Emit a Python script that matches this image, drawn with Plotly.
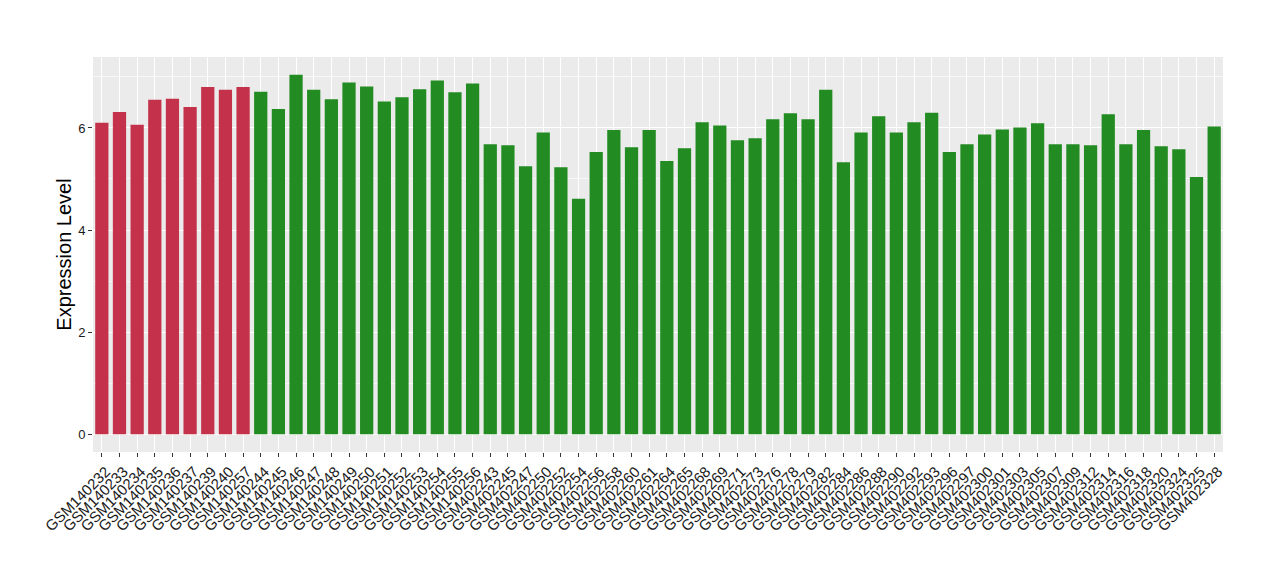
import plotly.graph_objects as go

samples = [
    "GSM140232", "GSM140233", "GSM140234", "GSM140235", "GSM140236", "GSM140237",
    "GSM140239", "GSM140240", "GSM140257",
    "GSM140244", "GSM140245", "GSM140246", "GSM140247", "GSM140248", "GSM140249",
    "GSM140250", "GSM140251", "GSM140252", "GSM140253", "GSM140254", "GSM140255",
    "GSM140256", "GSM402243", "GSM402245", "GSM402247", "GSM402250", "GSM402252",
    "GSM402254", "GSM402256", "GSM402258", "GSM402260", "GSM402261", "GSM402264",
    "GSM402265", "GSM402268", "GSM402269", "GSM402271", "GSM402273", "GSM402276",
    "GSM402278", "GSM402279", "GSM402282", "GSM402284", "GSM402286", "GSM402288",
    "GSM402290", "GSM402292", "GSM402293", "GSM402296", "GSM402297", "GSM402300",
    "GSM402301", "GSM402303", "GSM402305", "GSM402307", "GSM402309", "GSM402312",
    "GSM402314", "GSM402316", "GSM402318", "GSM402320", "GSM402324", "GSM402325",
    "GSM402328",
]

values = [
    6.10, 6.31, 6.06, 6.55, 6.57, 6.41, 6.80, 6.75, 6.80,
    6.71, 6.37, 7.04, 6.75, 6.56, 6.89, 6.81, 6.52, 6.60, 6.76, 6.93, 6.70,
    6.87, 5.68, 5.66, 5.25, 5.91, 5.23, 4.61, 5.53, 5.96, 5.62, 5.96, 5.35,
    5.60, 6.11, 6.05, 5.76, 5.80, 6.17, 6.29, 6.17, 6.75, 5.33, 5.91, 6.23,
    5.91, 6.11, 6.30, 5.53, 5.68, 5.87, 5.97, 6.01, 6.09, 5.68, 5.68, 5.66,
    6.27, 5.68, 5.96, 5.64, 5.58, 5.04, 6.03,
]

groups = ["red"] * 9 + ["green"] * 55

group_colors = {"red": "#C3324A", "green": "#228B22"}

y_ticks = [0, 2, 4, 6]

fig = go.Figure(
    go.Bar(
        x=samples,
        y=values,
        marker=dict(color=[group_colors[g] for g in groups], line=dict(width=0)),
        showlegend=False,
    )
)

fig.update_layout(
    width=1280,
    height=580,
    margin=dict(l=85, r=65, t=49, b=136, autoexpand=False),
    paper_bgcolor="white",
    plot_bgcolor="#EBEBEB",
    bargap=0.25,
    font=dict(family="Liberation Sans, Arial, sans-serif", color="#1A1A1A"),
)

fig.update_xaxes(
    type="category",
    automargin=False,
    tickmode="array",
    tickvals=samples,
    ticktext=samples,
    tickangle=-45,
    tickfont=dict(size=15, color="#1A1A1A"),
    ticklabelshift=4,
    showgrid=True,
    gridcolor="white",
    gridwidth=1.1,
    ticks="outside",
    ticklen=4,
    tickwidth=1,
    tickcolor="#333333",
    showline=False,
    zeroline=False,
    range=[-0.5, len(samples) - 0.5],
)

fig.update_yaxes(
    automargin=False,
    title=dict(text="Expression Level", font=dict(size=20, color="#000000"), standoff=1),
    range=[-0.35, 7.39],
    tickvals=y_ticks,
    ticktext=[str(t) for t in y_ticks],
    tickfont=dict(size=13, color="#1A1A1A"),
    showgrid=True,
    gridcolor="white",
    gridwidth=1.1,
    ticks="outside",
    ticklen=4,
    tickwidth=1,
    tickcolor="#333333",
    zeroline=False,
    showline=False,
    minor=dict(tickvals=[1, 3, 5, 7], showgrid=True, gridcolor="#F7F7F7", gridwidth=0.6, ticks=""),
)

fig.write_html("out.html")
